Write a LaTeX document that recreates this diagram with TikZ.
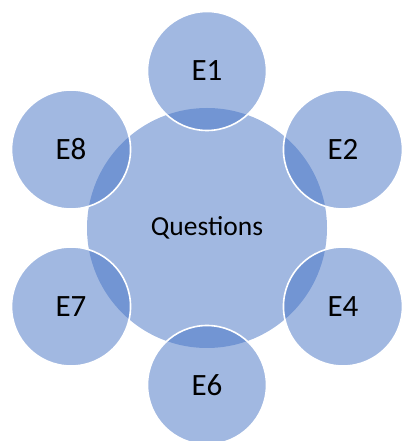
\documentclass[tikz,border=0pt]{standalone}
\usepackage{fontspec}
\setmainfont{Carlito}
\usetikzlibrary{calc}
\definecolor{accent}{HTML}{4472C4}
\tikzset{
  hub/.style={circle, fill=accent, fill opacity=0.5, text opacity=1, draw=none, minimum size=240pt, inner sep=0pt, font=\fontsize{27.5}{32}\selectfont},
  sat/.style={circle, fill=accent, fill opacity=0.5, text opacity=1, draw=white, draw opacity=1, line width=1.6pt, minimum size=119pt, inner sep=0pt, font=\fontsize{31}{35}\selectfont}
}
\begin{document}
\begin{tikzpicture}[x=1pt,y=1pt]
\useasboundingbox (0,0) rectangle (402,441);
\node[hub] (q) at (207,213) {Questions};
\node[sat] (e1) at ($(q)+(90:157)$) {E1};
\node[sat] (e2) at ($(q)+(30:157)$) {E2};
\node[sat] (e4) at ($(q)+(-30:157)$) {E4};
\node[sat] (e6) at ($(q)+(-90:157)$) {E6};
\node[sat] (e7) at ($(q)+(-150:157)$) {E7};
\node[sat] (e8) at ($(q)+(150:157)$) {E8};
\end{tikzpicture}
\end{document}
